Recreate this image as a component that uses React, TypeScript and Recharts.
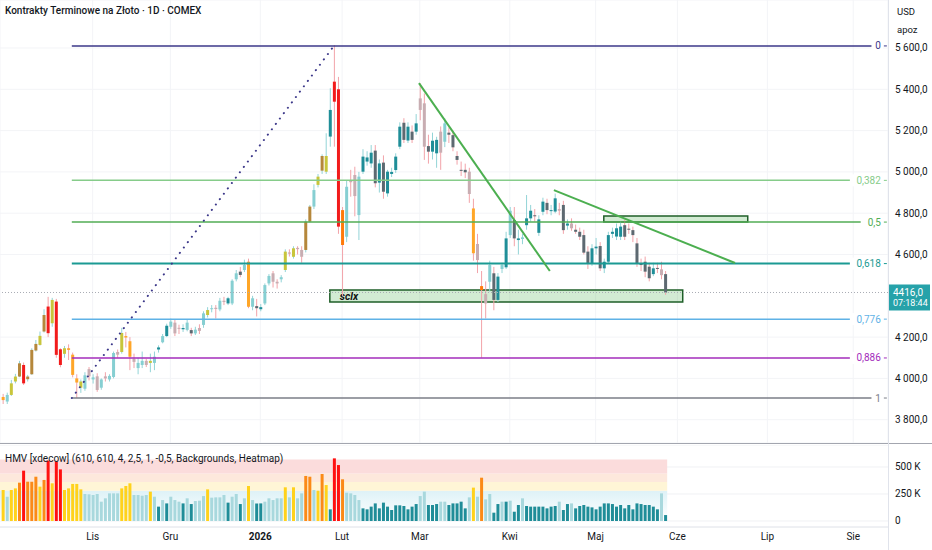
import React from 'react';
import { ComposedChart, Bar, XAxis, YAxis, CartesianGrid, ReferenceLine, ReferenceArea, Cell } from 'recharts';

const FONT = 'Roboto, "Noto Sans", sans-serif';

// daily candles, Oct 2025 .. end of May 2026
const opens = [
  3910, 3888, 3920, 3985, 4009, 4065, 3996, 4020, 4135, 4162,
  4227, 4348, 4267, 4372, 4141, 4119, 4146, 4115, 4000, 3955,
  3950, 4045, 3995, 4010, 3955, 4010, 3995, 4007, 4128, 4128,
  4205, 4180, 4095, 4050, 4065, 4085, 4075, 4075, 4140, 4175,
  4205, 4250, 4270, 4245, 4238, 4235, 4234, 4218, 4244, 4259,
  4307, 4335, 4342, 4334, 4376, 4363, 4363, 4480, 4517, 4525,
  4565, 4347, 4350, 4335, 4363, 4460, 4509, 4468, 4480, 4525,
  4610, 4589, 4632, 4622, 4622, 4759, 4832, 4937, 5006, 5001,
  5171, 5437, 5400, 4815, 4686, 4960, 4985, 4791, 5001, 5050,
  5041, 5103, 4948, 5045, 4896, 4990, 5009, 5122, 5238, 5152,
  5195, 5195, 5356, 5332, 5125, 5098, 5090, 5195, 5146, 5190,
  5178, 5077, 5010, 5010, 5001, 4823, 4651, 4447, 4408, 4468,
  4509, 4380, 4530, 4538, 4694, 4767, 4670, 4675, 4742, 4775,
  4790, 4705, 4807, 4850, 4810, 4808, 4820, 4840, 4740, 4750,
  4720, 4710, 4694, 4614, 4557, 4630, 4641, 4533, 4565, 4700,
  4687, 4686, 4742, 4725, 4718, 4654, 4557, 4565, 4541, 4505,
  4535, 4528, 4505,
];
const highs = [
  3925, 3931, 3993, 4022, 4085, 4077, 4017, 4146, 4186, 4227,
  4335, 4395, 4390, 4385, 4146, 4157, 4165, 4125, 4020, 3995,
  4030, 4055, 4020, 4025, 4000, 4030, 4020, 4130, 4140, 4245,
  4225, 4200, 4120, 4100, 4130, 4095, 4120, 4130, 4160, 4215,
  4265, 4290, 4285, 4260, 4262, 4285, 4245, 4250, 4262, 4325,
  4345, 4355, 4355, 4390, 4395, 4395, 4480, 4525, 4540, 4575,
  4580, 4400, 4385, 4360, 4460, 4505, 4520, 4480, 4500, 4625,
  4625, 4640, 4640, 4640, 4770, 4840, 4940, 4990, 5085, 5187,
  5405, 5614, 5460, 4830, 4960, 5010, 5025, 5000, 5110, 5100,
  5130, 5130, 5060, 5080, 5010, 5020, 5090, 5240, 5260, 5240,
  5225, 5280, 5429, 5380, 5180, 5190, 5170, 5220, 5260, 5215,
  5200, 5100, 5050, 5040, 5020, 4870, 4700, 4520, 4470, 4570,
  4540, 4510, 4560, 4710, 4830, 4830, 4720, 4700, 4888, 4840,
  4820, 4790, 4875, 4870, 4840, 4895, 4850, 4860, 4770, 4775,
  4745, 4730, 4720, 4640, 4650, 4680, 4660, 4580, 4710, 4730,
  4750, 4760, 4770, 4750, 4735, 4680, 4580, 4590, 4560, 4560,
  4560, 4565, 4520,
];
const lows = [
  3876, 3876, 3915, 3976, 4006, 3968, 3985, 4017, 4130, 4159,
  4222, 4200, 4250, 4100, 4054, 4100, 4089, 4005, 3905, 3930,
  3940, 3990, 3975, 3935, 3945, 3985, 3985, 4000, 4100, 4120,
  4150, 4040, 4050, 4020, 4050, 4055, 4030, 4040, 4125, 4170,
  4200, 4240, 4205, 4215, 4225, 4228, 4205, 4210, 4215, 4245,
  4295, 4320, 4290, 4325, 4355, 4355, 4355, 4470, 4490, 4515,
  4340, 4330, 4300, 4325, 4355, 4450, 4440, 4435, 4465, 4515,
  4590, 4580, 4600, 4560, 4610, 4755, 4820, 4925, 4990, 4990,
  5122, 5122, 4700, 4400, 4660, 4880, 4785, 4670, 4990, 5030,
  5020, 4925, 4900, 4870, 4880, 4975, 4995, 5110, 5140, 5140,
  5140, 5180, 5250, 5058, 5040, 5060, 5020, 5010, 5120, 5140,
  5100, 5035, 4980, 4970, 4850, 4570, 4510, 4100, 4290, 4420,
  4330, 4370, 4510, 4530, 4680, 4640, 4600, 4650, 4720, 4760,
  4760, 4690, 4790, 4795, 4790, 4800, 4790, 4700, 4720, 4715,
  4700, 4670, 4600, 4530, 4545, 4600, 4520, 4510, 4555, 4680,
  4670, 4670, 4670, 4700, 4660, 4540, 4520, 4490, 4470, 4495,
  4510, 4480, 4405,
];
const closes = [
  3895, 3920, 3976, 4009, 4073, 3976, 4009, 4138, 4167, 4206,
  4307, 4219, 4380, 4114, 4065, 4146, 4138, 4017, 3980, 3985,
  4015, 4010, 4005, 3944, 3995, 4000, 4012, 4123, 4115, 4220,
  4198, 4105, 4080, 4075, 4085, 4065, 4085, 4105, 4150, 4205,
  4255, 4275, 4218, 4240, 4244, 4270, 4218, 4236, 4230, 4315,
  4331, 4340, 4336, 4376, 4370, 4388, 4473, 4509, 4501, 4549,
  4347, 4388, 4340, 4345, 4452, 4496, 4468, 4460, 4490, 4614,
  4604, 4630, 4626, 4589, 4759, 4832, 4912, 4977, 5077, 5077,
  5300, 5340, 4735, 4646, 4928, 4950, 4883, 4977, 5074, 5070,
  5093, 4945, 5041, 4904, 5001, 5000, 5074, 5219, 5155, 5219,
  5155, 5235, 5300, 5122, 5098, 5151, 5155, 5093, 5235, 5180,
  5119, 5058, 5005, 4998, 4893, 4606, 4573, 4428, 4363, 4549,
  4380, 4493, 4549, 4678, 4812, 4678, 4678, 4683, 4775, 4812,
  4785, 4770, 4856, 4815, 4815, 4872, 4812, 4718, 4750, 4727,
  4710, 4686, 4609, 4557, 4630, 4638, 4533, 4565, 4694, 4710,
  4727, 4735, 4686, 4720, 4694, 4557, 4549, 4517, 4485, 4533,
  4530, 4500, 4416,
];
// volume, thousands of contracts
const volumes = [
  287, 225, 287, 302, 355, 466, 364, 364, 410, 318,
  380, 559, 349, 549, 478, 287, 302, 343, 343, 293,
  250, 247, 241, 250, 179, 210, 256, 256, 256, 302,
  324, 349, 241, 241, 234, 241, 272, 225, 133, 194,
  163, 225, 194, 179, 163, 210, 157, 185, 188, 231,
  293, 216, 219, 219, 241, 170, 225, 250, 157, 210,
  324, 194, 163, 163, 179, 210, 194, 210, 210, 312,
  219, 312, 210, 256, 417, 410, 287, 281, 435, 333,
  108, 580, 518, 386, 262, 256, 241, 194, 117, 108,
  133, 163, 117, 170, 133, 102, 145, 145, 139, 108,
  133, 157, 231, 272, 148, 148, 157, 179, 179, 148,
  163, 163, 179, 117, 219, 309, 225, 401, 200, 250,
  77, 157, 179, 179, 188, 86, 148, 210, 139, 133,
  133, 133, 133, 117, 133, 139, 179, 102, 157, 163,
  117, 139, 148, 133, 126, 108, 133, 163, 163, 157,
  133, 148, 117, 148, 108, 163, 157, 148, 148, 133,
  108, 256, 55,
];
// HMV heat class per bar: r extra high, o high, y medium, l normal, d low
const heat =
  'ylyyoroooy' + 'oryrryyyyy' + 'llllllllly' + 'yyllllyldl' + 'dllldldlll' +
  'ylllldlldl' + 'ylddllllly' + 'lylloolyoy' + 'drrolllldd' + 'dddddddddd' +
  'ddlldddlld' + 'ddddlyloll' + 'ddldlddldd' + 'ddddddlddl' + 'dddddddddd' +
  'dddddddddd' + 'dld';

// 4 400,0 sits under the last-price tag, so it is not listed
const priceTicks = [3800, 4000, 4200, 4600, 4800, 5000, 5200, 5400, 5600];
const volumeTicks = [0, 250, 500];
const monthTicks = [22, 41, 63, 83, 102, 124, 145, 165, 187, 208];
const monthLabels = ['Lis', 'Gru', '2026', 'Lut', 'Mar', 'Kwi', 'Maj', 'Cze', 'Lip', 'Sie'];

// fibonacci retracement drawn from the Oct low to the Jan high
const fibLabels = ['0', '0,382', '0,5', '0,618', '0,776', '0,886', '1'];
const fibPrices = [5610, 4959, 4757, 4556, 4287, 4099, 3905];
const fibStart = 16.9;
const fibEnd = 215;
const swingLow = { x: 16.9, y: 3905 };
const swingHigh = { x: 81, y: 5610 };
const trendA = [{ x: 101.8, y: 5430 }, { x: 133.8, y: 4520 }];
const trendB = [{ x: 134.8, y: 4912 }, { x: 179.1, y: 4559 }];
const zoneSclx = { x1: 80, x2: 166.3, y1: 4370, y2: 4428 };
const zoneSmall = { x1: 147, x2: 182.2, y1: 4757, y2: 4786 };
const lastPrice = 4416;

const fibColors = ['#3b3789', '#86cc8a', '#52ad55', '#1b9a93', '#5fb2e6', '#a32cbb', '#7b7e87'];

const X_MIN = -0.66;
const X_MAX = 216.5;
const P_MIN = 3687.2;
const P_MAX = 5832.4;
const V_MIN = -55.6;
const V_MAX = 703.7;

const bodyColors: Record<string, [string, string]> = {
  r: ['#f21b1b', '#f21b1b'],
  o: ['#b5873b', '#ff7a0a'],
  y: ['#c8c53b', '#ffa628'],
  l: ['#86cfd2', '#c8adb2'],
  d: ['#1f8e98', '#5d6971'],
};
const volColors: Record<string, string> = {
  r: '#ff1010', o: '#fb8a17', y: '#ffd21c', l: '#a8d8dd', d: '#1f8d98',
};

const data = opens.map((o, i) => ({
  i,
  o,
  h: highs[i],
  l: lows[i],
  c: closes[i],
  v: volumes[i],
  heat: heat[i],
}));

const fmtPrice = (v: number) => {
  const [int, dec] = v.toFixed(1).split('.');
  return int.replace(/\B(?=(\d{3})+(?!\d))/g, ' ') + ',' + dec;
};

function Candle(props: any) {
  const { x, y, width, height, payload } = props;
  if (height == null || !payload) return null;
  const { o, h, l, c } = payload;
  const up = c >= o;
  const py = (p: number) => y + ((h - p) / (h - l)) * height;
  const top = py(Math.max(o, c));
  const bot = py(Math.min(o, c));
  const cx = x + width / 2;
  return (
    <g>
      <line x1={cx} x2={cx} y1={y} y2={y + height} stroke={up ? '#93d4d7' : '#f2a3a9'} strokeWidth={1} />
      <rect x={x} y={top} width={width} height={Math.max(1, bot - top)} fill={bodyColors[payload.heat][up ? 0 : 1]} />
    </g>
  );
}

const PriceTick = ({ x, y, payload }: any) => (
  <text x={x + 7} y={y} dy={3.5} fontSize={10} fill="#131722" fontFamily={FONT}>
    {fmtPrice(payload.value)}
  </text>
);

const VolumeTick = ({ x, y, payload }: any) => (
  <text x={x + 7} y={y} dy={3.5} fontSize={10} fill="#131722" fontFamily={FONT}>
    {payload.value === 0 ? '0' : `${payload.value} K`}
  </text>
);

const MonthTick = ({ x, y, payload }: any) => {
  const label = monthLabels[monthTicks.indexOf(payload.value)];
  return (
    <text x={x} y={y} dy={13} textAnchor="middle" fontSize={10} fill="#131722" fontFamily={FONT}
      fontWeight={label === '2026' ? 700 : 400}>
      {label}
    </text>
  );
};

const fibLabel = (text: string, color: string) => (props: any) => {
  const vb = props.viewBox || {};
  const ex = (vb.x ?? 0) + (vb.width ?? 0);
  const ey = vb.y ?? 0;
  const w = text.length * 5.4 + 5;
  return (
    <g>
      <rect x={ex - w} y={ey - 6} width={w + 1} height={12} fill="#fff" />
      <text x={ex - 1} y={ey} dy={3.5} textAnchor="end" fontSize={10} fill={color} fontFamily={FONT}>{text}</text>
      <line x1={ex + 2} x2={ex + 5} y1={ey} y2={ey} stroke={color} strokeWidth={1} />
    </g>
  );
};

const priceTag = (props: any) => {
  const vb = props.viewBox || {};
  const rx = (vb.x ?? 0) + (vb.width ?? 0);
  const ry = vb.y ?? 0;
  return (
    <g>
      <rect x={rx} y={ry - 8} width={42} height={26} fill="#26a2a9" />
      <text x={rx + 5} y={ry} dy={3.5} fontSize={10} fill="#fff" fontFamily={FONT}>
        {lastPrice.toFixed(1).replace('.', ',')}
      </text>
      <text x={rx + 5} y={ry + 11} dy={3} fontSize={9} fill="#fff" fontFamily={FONT}>07:18:44</text>
    </g>
  );
};

const sclxLabel = (props: any) => {
  const vb = props.viewBox || {};
  return (
    <text x={(vb.x ?? 0) + 10} y={(vb.y ?? 0) + (vb.height ?? 0) / 2} dy={3.5} fontSize={10.5}
      fontStyle="italic" fontWeight={700} fill="#111" fontFamily={FONT}>
      sclx
    </text>
  );
};

export default function App() {
  return (
    <div style={{ position: 'fixed', left: 0, top: 0, width: 932, height: 550, background: '#fff', overflow: 'hidden', fontFamily: FONT }}>
      <div style={{ position: 'absolute', left: 0, top: 0 }}>
        <ComposedChart width={932} height={443} data={data} margin={{ top: 0, right: 0, bottom: 0, left: 0 }}>
          <CartesianGrid stroke="#f3f4f7" />
          <XAxis type="number" dataKey="i" domain={[X_MIN, X_MAX]} ticks={monthTicks} allowDataOverflow hide />
          <YAxis orientation="right" width={44} domain={[P_MIN, P_MAX]} ticks={priceTicks} interval={0}
            allowDataOverflow axisLine={false} tickLine={false} tickSize={0} tickMargin={0} tick={<PriceTick />} />
          <ReferenceLine y={lastPrice} stroke="#a9adb5" strokeDasharray="1 2" label={priceTag} ifOverflow="visible" />
          {fibPrices.map((p, k) => (
            <ReferenceLine key={fibLabels[k]} segment={[{ x: fibStart, y: p }, { x: fibEnd, y: p }]}
              stroke={fibColors[k]} strokeWidth={k === 3 ? 2 : 1.5} ifOverflow="visible"
              label={fibLabel(fibLabels[k], fibColors[k])} />
          ))}
          <ReferenceLine segment={[swingLow, swingHigh]} stroke="#3b3789" strokeWidth={2}
            strokeDasharray="0.1 6.6" strokeLinecap="round" ifOverflow="visible" />
          <Bar dataKey={(d: any) => [d.l, d.h]} shape={<Candle />} barSize={3} isAnimationActive={false} />
          <ReferenceArea x1={zoneSclx.x1} x2={zoneSclx.x2} y1={zoneSclx.y1} y2={zoneSclx.y2}
            fill="#4caf50" fillOpacity={0.25} stroke="#1f5f28" strokeWidth={1.5} ifOverflow="visible" label={sclxLabel} />
          <ReferenceArea x1={zoneSmall.x1} x2={zoneSmall.x2} y1={zoneSmall.y1} y2={zoneSmall.y2}
            fill="#4caf50" fillOpacity={0.25} stroke="#1f5f28" strokeWidth={1.5} ifOverflow="visible" />
          <ReferenceLine segment={trendA} stroke="#4caf50" strokeWidth={2} ifOverflow="visible" />
          <ReferenceLine segment={trendB} stroke="#4caf50" strokeWidth={2} ifOverflow="visible" />
        </ComposedChart>
      </div>

      <div style={{ position: 'absolute', left: 0, top: 443, width: 932, height: 1, background: '#a3a6af' }} />

      <div style={{ position: 'absolute', left: 0, top: 445 }}>
        <ComposedChart width={932} height={105} data={data} margin={{ top: 0, right: 0, bottom: 0, left: 0 }}>
          <defs>
            <linearGradient id="normBand" x1="0" y1="0" x2="0" y2="1">
              <stop offset="0%" stopColor="#def2f7" />
              <stop offset="100%" stopColor="#ffffff" />
            </linearGradient>
          </defs>
          <CartesianGrid stroke="#f0f1f4" vertical={false} />
          <XAxis type="number" dataKey="i" domain={[X_MIN, X_MAX]} ticks={monthTicks} interval={0} allowDataOverflow
            height={23} axisLine={{ stroke: '#e6e8ee' }} tickLine={false} tickSize={0} tickMargin={0} tick={<MonthTick />} />
          <YAxis orientation="right" width={44} domain={[V_MIN, V_MAX]} ticks={volumeTicks} interval={0}
            allowDataOverflow axisLine={false} tickLine={false} tickSize={0} tickMargin={0} tick={<VolumeTick />} />
          <ReferenceArea x1={X_MIN} x2={162.5} y1={0} y2={280} fill="url(#normBand)" fillOpacity={1} ifOverflow="visible" />
          <ReferenceArea x1={X_MIN} x2={162.5} y1={280} y2={360} fill="#fff5d6" fillOpacity={1} ifOverflow="visible" />
          <ReferenceArea x1={X_MIN} x2={162.5} y1={360} y2={440} fill="#fde8dc" fillOpacity={1} ifOverflow="visible" />
          <ReferenceArea x1={X_MIN} x2={162.5} y1={440} y2={570} fill="#fbdcdc" fillOpacity={1} ifOverflow="visible" />
          <Bar dataKey="v" barSize={3} isAnimationActive={false}>
            {data.map((d) => (
              <Cell key={d.i} fill={volColors[d.heat]} />
            ))}
          </Bar>
        </ComposedChart>
      </div>

      <div style={{ position: 'absolute', left: 888, top: 0, width: 1, height: 550, background: '#e0e3eb' }} />

      <div style={{ position: 'absolute', left: 5, top: 5, fontSize: 10, fontWeight: 500, color: '#131722', whiteSpace: 'nowrap' }}>
        Kontrakty Terminowe na Złoto · 1D · COMEX
      </div>
      <div style={{ position: 'absolute', left: 897, top: 6, fontSize: 9.5, color: '#131722' }}>USD</div>
      <div style={{ position: 'absolute', left: 897, top: 24, fontSize: 9.5, color: '#131722' }}>apoz</div>
      <div style={{ position: 'absolute', left: 5, top: 453, fontSize: 10, color: '#131722', whiteSpace: 'nowrap' }}>
        HMV [xdecow] (610, 610, 4, 2,5, 1, -0,5, Backgrounds, Heatmap)
      </div>
    </div>
  );
}
